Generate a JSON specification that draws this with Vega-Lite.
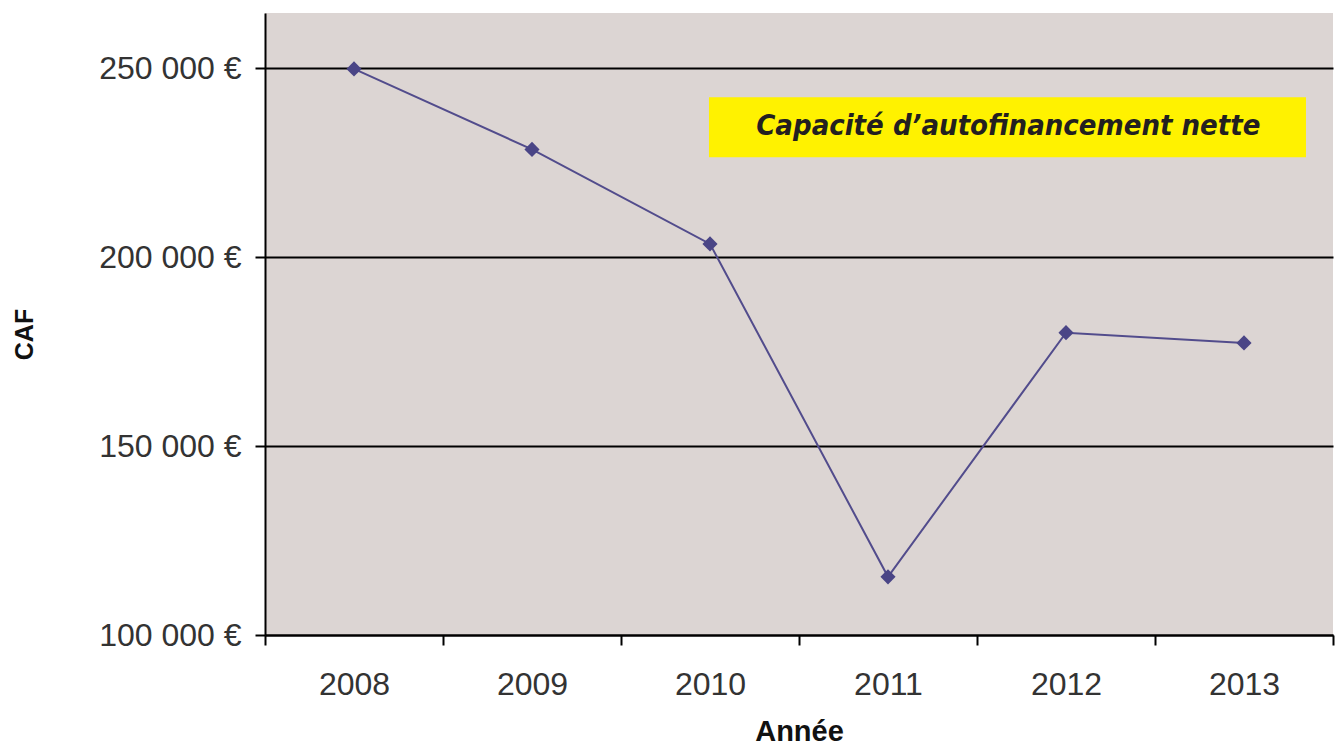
{
  "$schema": "https://vega.github.io/schema/vega-lite/v6.json",
  "width": 1068,
  "height": 622,
  "autosize": "none",
  "padding": {"left": 265, "top": 13, "right": 5, "bottom": 112},
  "background": "#ffffff",
  "config": {
    "view": {"fill": "#dcd5d3", "stroke": null},
    "font": "Liberation Sans"
  },
  "layer": [
    {
      "data": {"values": [
        {"annee": "2008", "caf": 249800},
        {"annee": "2009", "caf": 228500},
        {"annee": "2010", "caf": 203500},
        {"annee": "2011", "caf": 115400},
        {"annee": "2012", "caf": 180000},
        {"annee": "2013", "caf": 177300}
      ]},
      "mark": {"type": "line", "color": "#524c8c", "strokeWidth": 2, "point": {"shape": "diamond", "size": 230, "filled": true, "color": "#4a4586"}},
      "encoding": {
        "x": {
          "field": "annee", "type": "ordinal", "sort": null,
          "scale": {"paddingInner": 0, "paddingOuter": 0},
          "axis": {
            "title": "Année", "titleFont": "Liberation Sans", "titleFontSize": 29, "titleFontWeight": "bold", "titleColor": "#111111",
            "titleX": 534, "titleY": 96, "titleBaseline": "middle", "titleAlign": "center",
            "labelAngle": 0, "labelFontSize": 32, "labelColor": "#333333", "labelPadding": 24, "labelBaseline": "top",
            "tickBand": "extent", "tickSize": 10, "tickWidth": 2, "tickColor": "#000000",
            "domainColor": "#000000", "domainWidth": 2, "grid": false
          }
        },
        "y": {
          "field": "caf", "type": "quantitative",
          "scale": {"domain": [100000, 264600], "nice": false, "zero": false},
          "axis": {
            "title": "CAF", "titleFont": "Liberation Sans", "titleFontSize": 25, "titleFontWeight": "bold", "titleColor": "#111111",
            "titleAngle": -90, "titleX": -241, "titleY": 321, "titleBaseline": "middle", "titleAlign": "center",
            "values": [100000, 150000, 200000, 250000],
            "labelExpr": "replace(format(datum.value, ',d'), ',', ' ') + ' €'",
            "labelFontSize": 32, "labelColor": "#333333", "labelPadding": 14,
            "tickSize": 10, "tickWidth": 2, "tickColor": "#000000",
            "domainColor": "#000000", "domainWidth": 2,
            "grid": true, "gridColor": "#000000", "gridWidth": 2
          }
        }
      }
    },
    {
      "data": {"values": [
        {"x1": 0.4157, "x2": 0.9747, "y1": 242330, "y2": 226460, "tx": 0.696, "ty": 234700, "label": "Capacité d’autofinancement nette"}
      ]},
      "layer": [
        {
          "mark": {"type": "rect", "color": "#fff200"},
          "encoding": {
            "x": {"field": "x1", "type": "quantitative", "scale": {"domain": [0, 1]}, "axis": null},
            "x2": {"field": "x2"},
            "y": {"field": "y1", "type": "quantitative"},
            "y2": {"field": "y2"}
          }
        },
        {
          "mark": {"type": "text", "font": "'DejaVu Sans Condensed', 'Liberation Sans', sans-serif", "fontSize": 29, "fontWeight": "bold", "fontStyle": "italic", "color": "#231f20", "align": "center", "baseline": "middle"},
          "encoding": {
            "x": {"field": "tx", "type": "quantitative", "scale": {"domain": [0, 1]}, "axis": null},
            "y": {"field": "ty", "type": "quantitative"},
            "text": {"field": "label"}
          }
        }
      ]
    }
  ],
  "resolve": {"scale": {"x": "independent"}}
}
